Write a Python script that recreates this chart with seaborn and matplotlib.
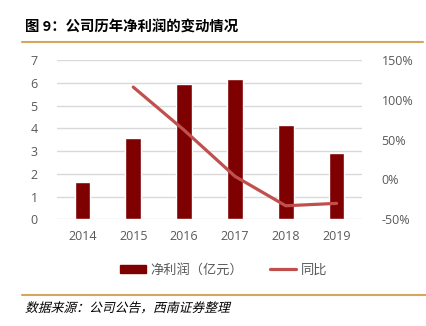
import matplotlib
matplotlib.use("Agg")
import matplotlib.pyplot as plt
import seaborn as sns
import pandas as pd
import numpy as np
from matplotlib.lines import Line2D
from matplotlib.patches import Patch, PathPatch
from matplotlib.textpath import TextPath
from matplotlib.font_manager import FontProperties
from matplotlib.transforms import Affine2D, IdentityTransform

years = ["2014", "2015", "2016", "2017", "2018", "2019"]
net_profit = [1.65, 3.59, 5.93, 6.18, 4.15, 2.91]
yoy_years = ["2015", "2016", "2017", "2018", "2019"]
yoy_pct = [116, 62, 4, -33, -30]
left_ticks = [0, 1, 2, 3, 4, 5, 6, 7]
right_ticks = [-50, 0, 50, 100, 150]
title = "图 9：公司历年净利润的变动情况"
source = "数据来源：公司公告，西南证券整理"
bar_label = "净利润（亿元）"
line_label = "同比"

sns.set_theme(style="white")
plt.rcParams['font.family'] = ['Noto Sans CJK SC', 'DejaVu Sans']

BAR = "#7F0000"
LINE = "#C0504D"
GOLD = "#D4A660"
TXT = "#595959"

W, H = 426, 326
fig = plt.figure(figsize=(W/100, H/100), dpi=100)
ax = fig.add_axes([57/W, 1-219.3/H, (362-57)/W, (219.3-60)/H])

df = pd.DataFrame({"year": years, "v": net_profit})
sns.barplot(data=df, x="year", y="v", order=years, color=BAR, width=0.31,
            saturation=1, ax=ax, zorder=3)
ax.set_ylim(0, 7)
ax.set_yticks(left_ticks)
ax.set_xlim(-0.5, len(years)-0.5)
ax.yaxis.grid(True, color="#D9D9D9", linewidth=1)
ax.set_axisbelow(True)
ax.set_xlabel("")
ax.set_ylabel("")
for s in ax.spines.values():
    s.set_visible(False)
ax.tick_params(axis="both", length=0, labelsize=9, colors=TXT)
ax.tick_params(axis="y", pad=14)
ax.tick_params(axis="x", pad=8)
for t in ax.get_xticklabels() + ax.get_yticklabels():
    t.set_fontfamily(['Open Sans', 'DejaVu Sans'])

ax2 = ax.twinx()
pos = {y: i for i, y in enumerate(years)}
ldf = pd.DataFrame({"x": [pos[y] for y in yoy_years], "v": yoy_pct})
sns.lineplot(data=ldf, x="x", y="v", color=LINE, linewidth=2.3, ax=ax2,
             solid_capstyle="round")
ax2.set_ylim(-50, 150)
ax2.set_yticks(right_ticks)
ax2.set_yticklabels([f"{t}%" for t in right_ticks])
ax2.set_xlim(-0.5, len(years)-0.5)
ax2.set_xlabel("")
ax2.set_ylabel("")
for s in ax2.spines.values():
    s.set_visible(False)
ax2.tick_params(axis="y", length=0, labelsize=9, colors=TXT, pad=14)
for t in ax2.get_yticklabels():
    t.set_fontfamily(['Open Sans', 'DejaVu Sans'])

handles = [Patch(facecolor=BAR, edgecolor=BAR),
           Line2D([0], [0], color=LINE, linewidth=2.3)]
fig.legend(handles, [bar_label, line_label], loc="center",
           bbox_to_anchor=(0.525, 1-270/H), ncol=2, frameon=False,
           fontsize=9.5, labelcolor=TXT, handlelength=2.0, handleheight=0.5,
           handletextpad=0.35, columnspacing=2.0)

fig.text(25/W, 1-28/H, title, fontsize=10.4, fontweight="bold",
         color="#000000", va="center", ha="left")
fig.add_artist(Line2D([22/W, 423/W], [1-42/H, 1-42/H],
                      color=GOLD, linewidth=1.5, transform=fig.transFigure))
fig.add_artist(Line2D([22/W, 1.0], [1-294.5/H, 1-294.5/H],
                      color=GOLD, linewidth=1.5, transform=fig.transFigure))

# italic (slanted) source note
fp = FontProperties(family="Noto Sans CJK SC", size=12)
tp = TextPath((0, 0), source, size=12.8, prop=fp)
tr = Affine2D().skew_deg(14, 0).translate(25, H - 312)
fig.add_artist(PathPatch(tp, facecolor="#000000", edgecolor="none",
                         transform=tr + IdentityTransform()))

fig.savefig("out.png", dpi=100)
